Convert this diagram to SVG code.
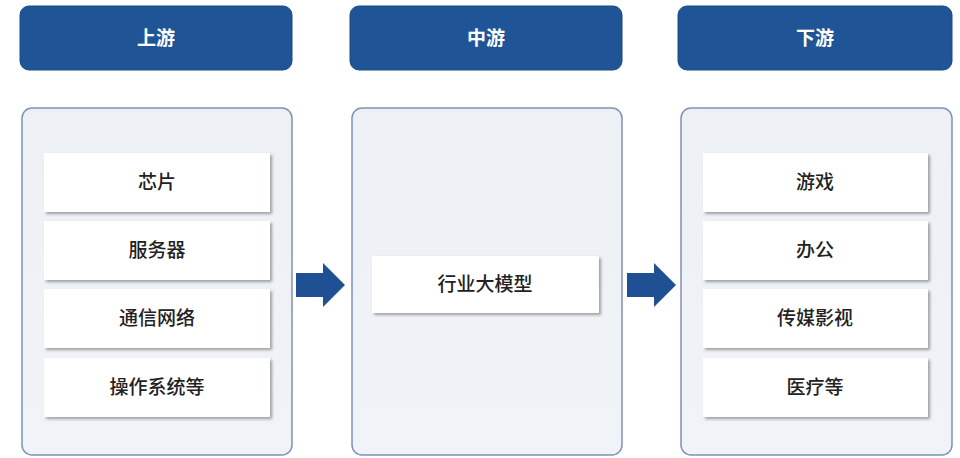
<svg xmlns="http://www.w3.org/2000/svg" width="960" height="458" viewBox="0 0 960 458">
<defs>
<filter id="sh" x="-10%" y="-20%" width="125%" height="150%">
<feGaussianBlur in="SourceAlpha" stdDeviation="1.5"/>
<feOffset dx="2" dy="2" result="b"/>
<feComponentTransfer><feFuncA type="linear" slope="0.35"/></feComponentTransfer>
<feMerge><feMergeNode/><feMergeNode in="SourceGraphic"/></feMerge>
</filter>
<linearGradient id="cg" x1="0" y1="0" x2="0" y2="1">
<stop offset="0" stop-color="#edf0f5"/>
<stop offset="1" stop-color="#f0f3f7"/>
</linearGradient>
</defs>
<style>
.hdr{fill:#1f5597;stroke:#1a4a86;stroke-width:1}
.ht{font-family:"Noto Sans CJK SC","Noto Sans",sans-serif;font-size:19px;font-weight:bold;fill:#ffffff;text-anchor:middle}
.con{fill:url(#cg);stroke:#7f93b3;stroke-width:1.5}
.item{fill:#ffffff;filter:url(#sh)}
.it{font-family:"Noto Sans CJK SC","Noto Sans",sans-serif;font-size:19px;font-weight:500;fill:#222222;text-anchor:middle}
.arr{fill:#1f5093}
</style>
<rect width="960" height="458" fill="#ffffff"/>
<g id="hdr-up"><rect class="hdr" x="20" y="6" width="272" height="64" rx="9"/><text class="ht" x="156" y="45">上游</text></g>
<g id="hdr-mid"><rect class="hdr" x="350" y="6" width="272" height="64" rx="9"/><text class="ht" x="486" y="45">中游</text></g>
<g id="hdr-down"><rect class="hdr" x="678" y="6" width="274" height="64" rx="9"/><text class="ht" x="815" y="45">下游</text></g>
<g id="con-up"><rect class="con" x="22" y="108" width="270" height="347" rx="10"/></g>
<g id="con-mid"><rect class="con" x="352" y="108" width="270" height="347" rx="10"/></g>
<g id="con-down"><rect class="con" x="681" y="108" width="271" height="347" rx="10"/></g>
<g id="n-chip"><rect class="item" x="44" y="153" width="226" height="59"/><text class="it" x="157" y="189">芯片</text></g>
<g id="n-server"><rect class="item" x="44" y="221" width="226" height="59"/><text class="it" x="157" y="257">服务器</text></g>
<g id="n-net"><rect class="item" x="44" y="289" width="226" height="59"/><text class="it" x="157" y="325">通信网络</text></g>
<g id="n-os"><rect class="item" x="44" y="358" width="226" height="59"/><text class="it" x="157" y="394">操作系统等</text></g>
<g id="n-model"><rect class="item" x="372" y="256" width="227" height="57"/><text class="it" x="485" y="291">行业大模型</text></g>
<g id="n-game"><rect class="item" x="703" y="153" width="225" height="59"/><text class="it" x="815" y="189">游戏</text></g>
<g id="n-office"><rect class="item" x="703" y="221" width="225" height="59"/><text class="it" x="815" y="257">办公</text></g>
<g id="n-media"><rect class="item" x="703" y="289" width="225" height="59"/><text class="it" x="815" y="325">传媒影视</text></g>
<g id="n-med"><rect class="item" x="703" y="358" width="225" height="59"/><text class="it" x="815" y="394">医疗等</text></g>
<g id="connectors">
<polygon class="arr" points="296,273 323,273 323,263 345,285 323,307 323,297 296,297"/>
<polygon class="arr" points="627,273 654,273 654,263 676,285 654,307 654,297 627,297"/>
</g>
</svg>
